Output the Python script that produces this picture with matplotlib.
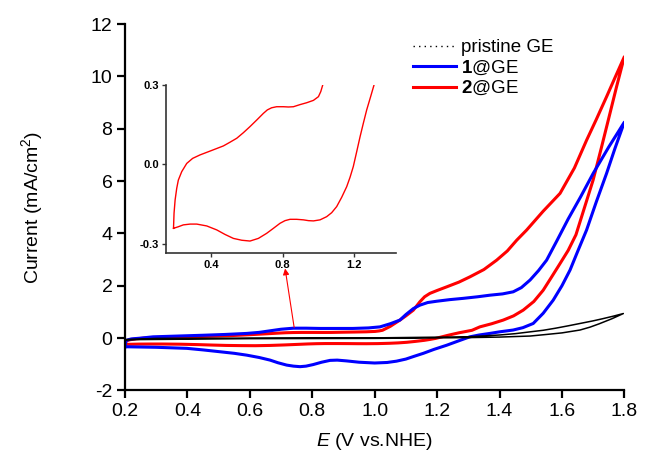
import matplotlib
matplotlib.use('Agg')
import matplotlib.pyplot as plt
from matplotlib.lines import Line2D
from matplotlib.ticker import FormatStrFormatter

plt.rcParams['font.family'] = ['Liberation Sans', 'DejaVu Sans']
plt.rcParams['mathtext.fontset'] = 'custom'
plt.rcParams['mathtext.rm'] = 'Liberation Sans'
plt.rcParams['mathtext.it'] = 'Liberation Sans:italic'
plt.rcParams['mathtext.bf'] = 'Liberation Sans:bold'
plt.rcParams['axes.unicode_minus'] = False

# ---------------- data ----------------
labels = ['pristine GE', r'$\mathbf{1}$@GE', r'$\mathbf{2}$@GE']

# pristine GE (forward then reverse)
pristine_x = [0.20, 0.30, 0.60, 1.00, 1.30, 1.40, 1.45, 1.498, 1.54, 1.58, 1.62, 1.658, 1.70,
              1.73, 1.765, 1.797,
              1.76, 1.72, 1.69, 1.658, 1.60, 1.55, 1.498, 1.40, 1.30, 1.00, 0.60, 0.20]
pristine_y = [-0.06, -0.01, 0.00, 0.01, 0.05, 0.12, 0.17, 0.24, 0.30, 0.38, 0.47, 0.56, 0.66,
              0.74, 0.84, 0.94,
              0.74, 0.55, 0.42, 0.31, 0.20, 0.14, 0.08, 0.04, 0.02, -0.01, -0.02, -0.06]

# 1@GE
blue_fwd_x = [0.20, 0.202, 0.205, 0.22, 0.25, 0.29, 0.37, 0.45, 0.52, 0.59, 0.63, 0.665, 0.70,
              0.74, 0.78, 0.825, 0.93, 0.98, 1.017, 1.05, 1.081, 1.10, 1.124, 1.145, 1.17,
              1.199, 1.24, 1.284, 1.33, 1.369, 1.41, 1.444, 1.47, 1.498, 1.525, 1.551, 1.583,
              1.62, 1.66, 1.70, 1.75, 1.80]
blue_fwd_y = [-0.33, -0.18, -0.08, -0.03, 0.00, 0.05, 0.08, 0.11, 0.14, 0.18, 0.22, 0.28, 0.34,
              0.38, 0.38, 0.37, 0.37, 0.39, 0.43, 0.55, 0.69, 0.90, 1.13, 1.26, 1.36,
              1.41, 1.47, 1.52, 1.58, 1.64, 1.69, 1.77, 1.93, 2.22, 2.58, 2.98, 3.70,
              4.55, 5.40, 6.29, 7.30, 8.25]
blue_rev_x = [1.80, 1.77, 1.743, 1.71, 1.679, 1.65, 1.626, 1.60, 1.572, 1.54, 1.508, 1.475,
              1.444, 1.40, 1.369, 1.335, 1.305, 1.27, 1.231, 1.19, 1.156, 1.125, 1.10, 1.07,
              1.04, 1.00, 0.95, 0.91, 0.88, 0.857, 0.83, 0.803, 0.78, 0.761, 0.74, 0.718,
              0.69, 0.665, 0.63, 0.59, 0.55, 0.504, 0.45, 0.398, 0.30, 0.205, 0.20]
blue_rev_y = [8.25, 7.25, 6.29, 5.20, 4.13, 3.30, 2.60, 2.00, 1.45, 0.95, 0.56, 0.40,
              0.31, 0.24, 0.18, 0.12, 0.05, -0.10, -0.27, -0.43, -0.58, -0.70, -0.80, -0.88,
              -0.93, -0.95, -0.92, -0.87, -0.84, -0.85, -0.92, -1.01, -1.07, -1.09, -1.07, -1.03,
              -0.94, -0.84, -0.74, -0.65, -0.58, -0.52, -0.45, -0.39, -0.35, -0.33, -0.33]

# 2@GE
red_fwd_x = [0.19, 0.193, 0.199, 0.208, 0.217, 0.236, 0.264, 0.297, 0.338, 0.40, 0.469, 0.506,
             0.544, 0.581, 0.618, 0.656, 0.693, 0.715, 0.739, 0.767, 0.805, 0.833, 0.861,
             0.898, 0.935, 0.973, 1.001, 1.014, 1.025, 1.05, 1.081, 1.10, 1.124, 1.145, 1.16,
             1.177, 1.20, 1.231, 1.27, 1.305, 1.35, 1.391, 1.425, 1.455, 1.487, 1.54, 1.594,
             1.64, 1.679, 1.71, 1.743, 1.77, 1.80]
red_fwd_y = [-0.241, -0.184, -0.134, -0.090, -0.059, -0.027, 0.004, 0.023, 0.036, 0.052, 0.070,
             0.084, 0.099, 0.120, 0.143, 0.168, 0.193, 0.206, 0.214, 0.218, 0.218, 0.217, 0.218,
             0.226, 0.233, 0.242, 0.256, 0.275, 0.300, 0.45, 0.69, 0.85, 1.07, 1.39, 1.58,
             1.71, 1.82, 1.96, 2.14, 2.34, 2.62, 2.98, 3.33, 3.74, 4.13, 4.85, 5.53,
             6.50, 7.56, 8.35, 9.22, 9.95, 10.75]
red_rev_x = [1.80, 1.775, 1.754, 1.727, 1.70, 1.67, 1.645, 1.62, 1.594, 1.565, 1.540, 1.51,
             1.476, 1.445, 1.412, 1.375, 1.337, 1.312, 1.293, 1.271, 1.252, 1.234, 1.215,
             1.196, 1.178, 1.159, 1.131, 1.103, 1.075, 1.047, 1.010, 0.973, 0.945, 0.917,
             0.879, 0.842, 0.814, 0.786, 0.749, 0.711, 0.665, 0.618, 0.572, 0.525, 0.478,
             0.432, 0.376, 0.320, 0.283, 0.245, 0.217, 0.19]
red_rev_y = [10.75, 9.60, 8.59, 7.30, 6.04, 4.90, 3.95, 3.35, 2.85, 2.30, 1.83, 1.40,
             1.07, 0.85, 0.69, 0.55, 0.43, 0.30, 0.256, 0.206, 0.155, 0.105, 0.048,
             -0.008, -0.048, -0.084, -0.124, -0.159, -0.182, -0.197, -0.209, -0.213, -0.212, -0.209,
             -0.207, -0.207, -0.212, -0.222, -0.241, -0.260, -0.279, -0.289, -0.286, -0.279, -0.264,
             -0.247, -0.232, -0.225, -0.225, -0.228, -0.235, -0.241]

main_xticks = [0.2, 0.4, 0.6, 0.8, 1.0, 1.2, 1.4, 1.6, 1.8]
main_yticks = [-2, 0, 2, 4, 6, 8, 10, 12]
inset_xticks = [0.4, 0.8, 1.2]
inset_yticks = [-0.3, 0.0, 0.3]

# ---------------- figure ----------------
fig = plt.figure(figsize=(6.49, 4.53), dpi=100)
ax = fig.add_axes([0.1926, 0.138, 0.7694, 0.809])

red_x = red_fwd_x + red_rev_x
red_y = red_fwd_y + red_rev_y
blue_x = blue_fwd_x + blue_rev_x
blue_y = blue_fwd_y + blue_rev_y

ax.plot(pristine_x, pristine_y, color='black', lw=1.1, zorder=3)
ax.plot(red_x, red_y, color='#ff0000', lw=2.2, zorder=2, solid_joinstyle='round')
ax.plot(blue_x, blue_y, color='#0000ff', lw=2.2, zorder=2, solid_joinstyle='round')

ax.set_xlim(0.2, 1.8)
ax.set_ylim(-2, 12)
ax.set_xticks(main_xticks)
ax.set_yticks(main_yticks)
ax.xaxis.set_major_formatter(FormatStrFormatter('%.1f'))
for s in ['top', 'right']:
    ax.spines[s].set_visible(False)
for s in ['left', 'bottom']:
    ax.spines[s].set_linewidth(1.6)
ax.tick_params(direction='out', length=6, width=1.6, labelsize=14, pad=3)
ax.set_xlabel(r'$E$ (V vs.NHE)', fontsize=14, labelpad=8)
ax.set_ylabel(r'Current (mA/cm$^2$)', fontsize=14, labelpad=33)

handles = [Line2D([], [], color='black', lw=1.0, ls=(0, (1, 3))),
           Line2D([], [], color='#0000ff', lw=2.2),
           Line2D([], [], color='#ff0000', lw=2.2)]
ax.legend(handles, labels, loc='upper left', bbox_to_anchor=(413 / 649, 1 - 39 / 453),
          bbox_transform=fig.transFigure, frameon=False, fontsize=13.5,
          handlelength=2.3, handletextpad=0.25, labelspacing=0.12, borderpad=0,
          borderaxespad=0)

# arrow from main curve to inset
ax.annotate('', xy=(0.713, 2.66), xytext=(0.742, 0.41),
            arrowprops=dict(arrowstyle='-|>', color='#ff0000', lw=0.8,
                            mutation_scale=9, shrinkA=0, shrinkB=0),
            annotation_clip=False, zorder=5)

# inset
ins = fig.add_axes([166 / 649, 1 - 252.7 / 453, 230 / 649, 167.7 / 453])
ins.patch.set_alpha(0)
ins.plot(red_x, red_y, color='#ff0000', lw=1.0, solid_joinstyle='round')
ins.set_xlim(0.148, 1.435)
ins.set_ylim(-0.333, 0.3)
ins.set_xticks(inset_xticks)
ins.set_yticks(inset_yticks)
ins.xaxis.set_major_formatter(FormatStrFormatter('%.1f'))
ins.yaxis.set_major_formatter(FormatStrFormatter('%.1f'))
for s in ['top', 'right']:
    ins.spines[s].set_visible(False)
for s in ['left', 'bottom']:
    ins.spines[s].set_linewidth(1.2)
    ins.spines[s].set_color('#333333')
ins.tick_params(direction='out', length=3, width=1.0, color='#333333', labelsize=8, pad=2)
for t in ins.get_xticklabels() + ins.get_yticklabels():
    t.set_fontweight('bold')

fig.savefig('out.png', dpi=100)
